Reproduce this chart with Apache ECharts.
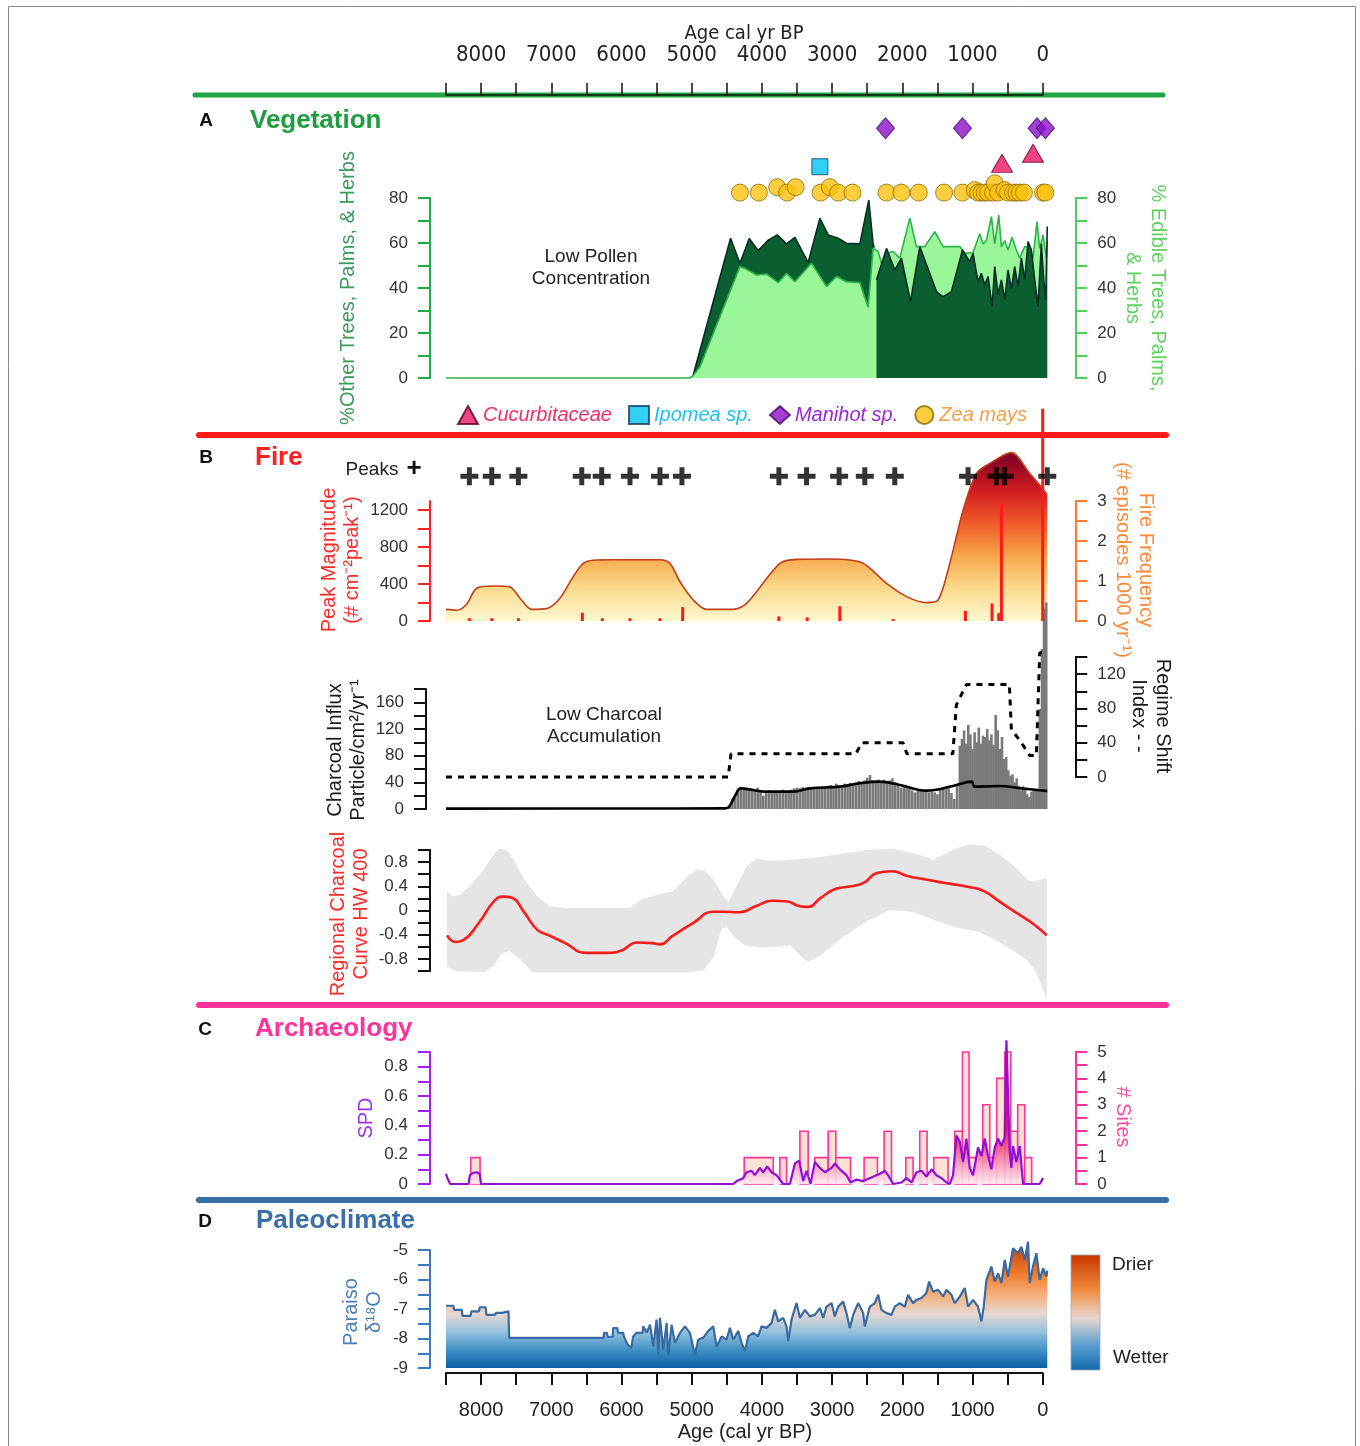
<!DOCTYPE html>
<html>
<head>
<meta charset="utf-8">
<title>Holocene vegetation, fire, archaeology and paleoclimate</title>
<script src="https://cdn.jsdelivr.net/npm/echarts@6/dist/echarts.min.js"></script>
<style>
  html, body { margin: 0; padding: 0; background: #fff; }
  #chart { width: 1360px; height: 1446px; }
</style>
</head>
<body>
<div id="chart"></div>
<script>
// ---------------------------------------------------------------------------
// Data (ages in cal yr BP)
// ---------------------------------------------------------------------------

// A - Vegetation: % edible trees/palms/herbs (light) and % other taxa (dark)
const vegEdible = [
  [8500,0],[5030,0],[4980,1],[4882,5],[4313,49.5],[4242,48.7],[4076,45.8],[3933,46.2],
  [3768,42.4],[3649,46.5],[3530,42.8],[3293,51],[3079,40.6],[2937,45.1],[2795,42.8],
  [2605,42.4],[2487,31.4],[2416,57.6],[2344,56.2],[2296,51],[2225,55.4],[2131,56.2],
  [2036,53.3],[1893,71],[1798,58.4],[1680,58.4],[1537,65],[1419,58.4],[1181,58.4],
  [1110,55.4],[992,55.8],[897,64.1],[850,59.6],[802,61.1],[731,71.7],[683,59.6],
  [626,72.4],[588,58.4],[541,61.1],[494,56.9],[437,62.6],[375,56.9],[327,53.3],
  [256,58.4],[185,57.6],[138,53.3],[81,69.5],[43,57.6],[-5,63.6],[-53,53.3],[-65,61]
];
const vegOtherEarly = [
  [4990,0],[4446,62.1],[4313,51],[4180,62],[4052,56.6],[3910,61.3],[3782,63.6],
  [3649,59.6],[3530,62.5],[3341,51.3],[3174,71],[3056,63.6],[2914,62.1],[2795,59.9],
  [2605,59.6],[2477,79.1],[2416,59.6],[2400,58]
];
const vegOtherLate = [
  [2368,43.6],[2225,57.6],[2107,48],[2012,53.3],[1883,33.9],[1751,58.4],[1513,38.4],
  [1419,36.1],[1300,38.4],[1143,56.9],[1039,51.7],[992,55.4],[921,42.8],[873,46.5],
  [826,41.3],[778,45.1],[721,31.7],[683,49.5],[636,37.2],[588,43.6],[541,34.7],
  [494,48],[446,39.5],[399,49.5],[352,40.6],[304,53.3],[256,43.6],[209,60.6],
  [161,56.9],[114,43.6],[67,31.7],[19,59.6],[-14,43.6],[-43,34.7],[-65,67.3]
];

// Crop macro/microfossil finds: [age, row level on the vegetation axis]
const cucurbitaceae = [[579,95.4],[138,99.9]];
const ipomea = [[3174,93.9]];
const manihot = [[2239,111],[1143,111],[81,111],[-38,111]];
const zeaMays = [
  [4313,82.4],[4043,82.4],[3782,84.8],[3640,82.4],[3520,84.8],[3164,82.4],[3032,84.8],
  [2914,82.4],[2709,82.4],[2225,82.4],[2012,82.4],[1765,82.4],[1405,82.4],[1143,82.4],
  [968,83.5],[920,82.4],[873,82.4],[826,82.4],[778,82.4],[707,82.4],[683,86.5],
  [636,82.4],[541,83.5],[494,82.4],[423,82.4],[375,82.4],[327,82.4],[266,82.4],
  [-5,82.4],[-38,82.4]
];

// B - Fire
const fireFrequency = [
  [8500,0.29],[8348,0.27],[8206,0.42],[8064,0.82],[7826,0.875],[7589,0.85],[7446,0.57],
  [7280,0.29],[7067,0.31],[6877,0.57],[6687,1.11],[6545,1.44],[6403,1.52],[6118,1.53],
  [5452,1.53],[5310,1.44],[5167,0.98],[4978,0.525],[4788,0.29],[4408,0.29],[4218,0.44],
  [3744,1.44],[3507,1.54],[3032,1.55],[2581,1.46],[2225,0.94],[1940,0.61],[1655,0.46],
  [1490,0.525],[1324,1.44],[1134,2.77],[944,3.69],[754,3.94],[446,4.21],[185,3.69],
  [43,3.4],[-65,3.15]
];
const peakMagnitude = [
  [8167,30],[7848,30],[7469,30],[6558,90],[6273,30],[5879,30],[5452,30],[5129,150],
  [3758,50],[3355,40],[2890,160],[2131,20],[1101,110],[722,190],[627,85],[588,1273],[0,2300]
];
const firePeaks = [8167,7848,7469,6566,6282,5879,5452,5139,3758,3364,2900,2534,2107,1063,659,541,-65];
const PEAK_ROW = 3.62; // row on the fire-frequency axis where peak crosses sit

const charcoalInflux = [
  [4460,5],[4420,15],[4380,22],[4340,27],[4300,30],[4260,32],[4220,31],[4180,29],[4140,30],
  [4100,28],[4060,32],[4020,26],[3980,20],[3940,27],[3900,28],[3860,27],[3820,26],[3780,27],
  [3740,28],[3700,29],[3660,27],[3620,28],[3580,29],[3540,31],[3500,32],[3460,31],[3420,33],
  [3380,31],[3340,32],[3300,33],[3260,31],[3220,32],[3180,33],[3140,34],[3100,32],[3060,35],
  [3020,36],[2980,34],[2940,38],[2900,35],[2860,36],[2820,38],[2780,37],[2740,39],[2700,38],
  [2660,40],[2620,42],[2580,41],[2540,43],[2500,47],[2460,51],[2420,43],[2380,41],[2340,44],
  [2300,40],[2260,44],[2220,40],[2180,43],[2140,46],[2100,40],[2060,37],[2020,32],[1980,35],
  [1940,33],[1900,30],[1860,28],[1820,25],[1780,27],[1740,28],[1700,27],[1660,27],[1620,25],
  [1580,26],[1540,25],[1500,22],[1460,29],[1420,31],[1380,30],[1340,32],[1300,24],[1260,15],
  [1220,35],[1180,95],[1150,105],[1120,118],[1090,98],[1060,126],[1030,112],[1000,90],
  [970,115],[940,100],[910,122],[880,98],[850,110],[820,108],[790,120],[760,103],[730,112],
  [700,96],[670,141],[640,118],[610,90],[580,108],[550,75],[520,78],[490,58],[460,50],
  [430,52],[400,40],[370,46],[340,35],[310,28],[280,34],[250,30],[220,22],[190,18],[160,26],
  [130,28],[100,27],[70,30],[40,150],[10,240],[-20,300],[-50,310]
];
const charcoalBackground = [
  [8500,0.5],[6000,0.8],[4520,1],[4470,3],[4380,20],[4300,31],[3933,26],[3554,26],
  [3317,31],[2890,33.5],[2640,38],[2320,41],[2036,36],[1656,27.5],[1277,34.5],[1015,41],
  [968,33.5],[612,34.5],[300,31],[-65,27]
];
const regimeShift = [
  [8500,0],[4480,0],[4440,27],[2660,27],[2580,40],[1990,40],[1935,27],[1280,27],[1230,84],
  [1086,108],[475,108],[446,55],[327,43],[185,25],[90,25],[43,145],[-65,145]
];

const regionalCurve = [
  [8485,-0.41],[8363,-0.52],[8254,-0.49],[8036,-0.21],[7818,0.15],[7687,0.23],[7563,0.21],
  [7381,-0.04],[7199,-0.32],[7018,-0.42],[6800,-0.54],[6508,-0.70],[6218,-0.70],[6000,-0.66],
  [5781,-0.53],[5563,-0.54],[5453,-0.56],[5272,-0.42],[4982,-0.21],[4691,-0.02],[4545,-0.02],
  [4327,-0.03],[4073,0.08],[3855,0.16],[3635,0.15],[3490,0.08],[3345,0.06],[3163,0.21],
  [2945,0.36],[2727,0.40],[2545,0.46],[2363,0.62],[2145,0.65],[1927,0.57],[1709,0.52],
  [1418,0.46],[1055,0.39],[837,0.32],[619,0.15],[401,-0.02],[147,-0.21],[-57,-0.41]
];
const regionalUpper = [
  [8486,0.32],[8399,0.23],[8290,0.26],[8144,0.43],[7999,0.62],[7853,0.87],[7744,1.02],
  [7635,1.0],[7526,0.82],[7381,0.51],[7199,0.23],[7017,0.07],[6799,0.04],[5890,0.04],
  [5709,0.18],[5490,0.26],[5272,0.32],[5054,0.57],[4909,0.68],[4800,0.65],[4690,0.51],
  [4545,0.23],[4472,0.15],[4363,0.40],[4218,0.73],[4073,0.86],[3891,0.82],[3673,0.83],
  [3236,0.87],[2873,0.94],[2509,1.0],[2146,1.02],[1782,0.93],[1564,0.84],[1273,1.01],
  [1055,1.09],[837,1.08],[619,0.93],[401,0.73],[219,0.51],[110,0.48],[-57,0.54]
];
const regionalLower = [
  [8486,-0.93],[8362,-1.0],[7963,-1.02],[7817,-0.91],[7708,-0.71],[7599,-0.67],[7454,-0.79],
  [7272,-1.02],[5054,-1.02],[4836,-0.99],[4690,-0.77],[4581,-0.32],[4509,-0.26],[4400,-0.43],
  [4254,-0.57],[4036,-0.61],[3782,-0.60],[3600,-0.57],[3455,-0.74],[3345,-0.85],[3164,-0.74],
  [2873,-0.46],[2509,-0.18],[2182,0.01],[1855,-0.02],[1491,-0.18],[1201,-0.29],[910,-0.35],
  [619,-0.52],[401,-0.68],[219,-0.82],[110,-0.99],[1,-1.27],[-57,-1.49]
];

// C - Archaeology
const siteBins = [ // [older edge, younger edge, number of sites]
  [8147,8015,1],[4252,3839,1],[3744,3649,1],[3459,3341,2],[3246,3056,1],[3056,2947,2],
  [2947,2738,1],[2544,2354,1],[2259,2154,2],[1950,1846,1],[1751,1647,2],[1552,1348,1],
  [1253,1143,2],[1143,1049,5],[1049,944,1],[854,754,3],[754,655,1],[655,541,4],
  [541,455,5],[455,356,2],[356,256,3],[256,157,1]
];
const spd = [
  [8500,0.07],[8480,0.04],[8440,0],[8180,0],[8160,0.06],[8120,0.075],[8060,0.08],[8020,0.07],
  [8000,0],[4440,0],[4408,0],[4360,0.02],[4266,0.04],[4218,0.08],[4147,0.09],[4100,0.06],
  [4028,0.11],[3981,0.08],[3924,0.12],[3862,0.08],[3791,0.06],[3744,0.03],[3697,0],[3601,0],
  [3530,0.14],[3469,0.16],[3412,0.02],[3364,0.09],[3307,0],[3246,0.15],[3174,0.11],[3103,0.08],
  [3008,0.11],[2961,0.14],[2890,0.10],[2795,0.06],[2738,0.01],[2652,0.03],[2558,0.02],
  [2416,0.05],[2320,0.07],[2249,0.09],[2202,0.06],[2131,0],[2012,0.01],[1940,0.04],[1869,0.01],
  [1798,0.08],[1727,0.09],[1656,0.05],[1584,0.10],[1513,0.06],[1442,0.04],[1371,0.01],[1324,0],
  [1277,0.06],[1229,0.33],[1181,0.29],[1134,0.15],[1087,0.31],[1039,0.11],[992,0.06],[921,0.25],
  [873,0.19],[826,0.31],[778,0.19],[731,0.10],[683,0.25],[636,0.31],[588,0.26],[541,0.32],
  [517,0.98],[494,0.97],[470,0.22],[446,0.11],[423,0.26],[375,0.15],[327,0.26],[280,0],
  [232,0],[138,0],[43,0],[-5,0.04]
];

// D - Paleoclimate: Paraiso cave d18O
const paraisoD18O = [
  [8500,-6.89],[8395,-6.89],[8385,-7.03],[8275,-7.03],[8265,-7.23],[8150,-7.23],[8140,-7.08],
  [8030,-7.08],[8020,-6.94],[7935,-6.94],[7925,-7.2],[7800,-7.2],[7790,-7.13],[7700,-7.13],
  [7690,-7.08],[7610,-7.08],[7600,-7.98],[6255,-7.98],[6250,-7.81],[6205,-7.81],[6200,-7.94],
  [6125,-7.94],[6120,-7.65],[6060,-7.65],[6050,-7.81],[5975,-7.81],[5965,-7.94],[5910,-8.21],
  [5860,-8.32],[5835,-7.94],[5790,-7.81],[5700,-7.81],[5690,-7.59],[5640,-7.8],[5594,-7.53],
  [5547,-8.27],[5500,-7.36],[5476,-8.55],[5452,-7.3],[5405,-8.38],[5357,-7.47],[5334,-8.6],
  [5286,-7.53],[5239,-8.15],[5167,-7.81],[5096,-7.59],[5025,-7.81],[4954,-8.55],[4907,-8.04],
  [4836,-7.97],[4765,-7.75],[4693,-7.59],[4645,-8.27],[4574,-7.93],[4503,-8.04],[4456,-7.64],
  [4408,-8.04],[4337,-7.75],[4289,-8.15],[4242,-8.43],[4195,-7.93],[4124,-7.81],[4053,-7.93],
  [4005,-7.59],[3934,-7.64],[3862,-7.47],[3815,-7.03],[3768,-7.42],[3697,-7.3],[3649,-7.59],
  [3626,-8.1],[3578,-7.36],[3507,-6.8],[3459,-7.3],[3388,-7.03],[3317,-7.25],[3246,-7.2],
  [3174,-6.97],[3127,-7.3],[3079,-6.92],[3008,-6.8],[2961,-7.25],[2914,-6.92],[2842,-6.75],
  [2795,-7.14],[2747,-7.64],[2700,-7.2],[2629,-6.8],[2558,-7.14],[2534,-7.59],[2463,-6.92],
  [2391,-6.8],[2344,-6.52],[2296,-7.03],[2225,-7.14],[2154,-7.2],[2107,-6.92],[2036,-6.8],
  [1964,-6.92],[1917,-6.52],[1846,-6.8],[1798,-6.69],[1727,-6.63],[1656,-6.46],[1618,-6.07],
  [1561,-6.41],[1490,-6.35],[1419,-6.58],[1371,-6.35],[1300,-6.52],[1253,-6.8],[1181,-6.58],
  [1110,-6.29],[1063,-6.92],[992,-6.69],[921,-6.92],[873,-7.42],[840,-6.92],[802,-6.01],
  [731,-5.56],[683,-6.07],[636,-5.79],[588,-6.12],[541,-5.34],[494,-5.9],[423,-4.94],
  [352,-5.11],[304,-4.89],[256,-5.34],[209,-4.72],[185,-6.12],[138,-5.56],[90,-5.11],
  [43,-6.01],[-5,-5.62],[-53,-5.9],[-65,-5.7]
];

// ---------------------------------------------------------------------------
// Layout helpers
// ---------------------------------------------------------------------------
const FONT = "'Liberation Sans', Arial, Helvetica, sans-serif";
const NARROW = "'Liberation Sans Narrow', 'Arial Narrow', 'DejaVu Sans Condensed', 'Liberation Sans', sans-serif";
const AGE_MIN = -65, AGE_MAX = 8500, PX_PER_YR = 0.0702, PLOT_LEFT = 446;
const DATA_W = (AGE_MAX - AGE_MIN) * PX_PER_YR;
const AXIS_W = AGE_MAX * PX_PER_YR;

function stepLabels(step, fmt, maxLabel) {
  return function (v) {
    const r = v / step;
    if (Math.abs(r - Math.round(r)) > 1e-6) return '';
    if (maxLabel !== undefined && v > maxLabel + 1e-9) return '';
    return fmt ? fmt(v) : String(Math.round(v));
  };
}
function dec1(v) { const r = Math.round(v * 10) / 10; return r === 0 ? '0' : r.toFixed(1); }

function yAxis(gridIndex, position, color, min, max, interval, labelFn, extra) {
  return Object.assign({
    type: 'value', gridIndex, position, min, max, interval,
    offset: position === 'left' ? 16 : 28,
    axisLine: { show: true, onZero: false, lineStyle: { color, width: 2 } },
    axisTick: { show: true, length: 12, lineStyle: { color, width: 2 } },
    axisLabel: { show: true, margin: 22, color: '#333', fontSize: 17, fontFamily: FONT, formatter: labelFn },
    splitLine: { show: false }
  }, extra || {});
}
function hiddenX(gridIndex) {
  return { type: 'value', gridIndex, min: AGE_MIN, max: AGE_MAX, inverse: true, show: false };
}
function hiddenY(gridIndex) {
  return { type: 'value', gridIndex, min: 0, max: 1, show: false };
}

const grids = [
  { left: PLOT_LEFT, top: 95,   width: AXIS_W, height: 10 },  // 0 top age axis
  { left: PLOT_LEFT, top: 198,  width: DATA_W, height: 180 }, // 1 vegetation
  { left: PLOT_LEFT, top: 501,  width: DATA_W, height: 120 }, // 2 fire peaks/frequency
  { left: PLOT_LEFT, top: 689,  width: DATA_W, height: 120 }, // 3 charcoal influx
  { left: PLOT_LEFT, top: 657,  width: DATA_W, height: 120 }, // 4 regime shift
  { left: PLOT_LEFT, top: 850,  width: DATA_W, height: 121 }, // 5 regional charcoal
  { left: PLOT_LEFT, top: 1052, width: DATA_W, height: 132 }, // 6 archaeology
  { left: PLOT_LEFT, top: 1250, width: DATA_W, height: 118 }, // 7 paleoclimate
  { left: PLOT_LEFT, top: 1363, width: AXIS_W, height: 10 }   // 8 bottom age axis
];

const xAxes = [
  { type: 'value', gridIndex: 0, position: 'top', min: 0, max: 8500, interval: 500, inverse: true,
    axisLine: { onZero: false, lineStyle: { color: '#111', width: 1.5 } },
    axisTick: { length: 12, lineStyle: { color: '#111', width: 1.5 } },
    axisLabel: { margin: 29, color: '#222', fontSize: 22, fontFamily: NARROW, formatter: stepLabels(1000) },
    splitLine: { show: false } },
  hiddenX(1), hiddenX(2), hiddenX(3), hiddenX(4), hiddenX(5), hiddenX(6), hiddenX(7),
  { type: 'value', gridIndex: 8, position: 'bottom', min: 0, max: 8500, interval: 500, inverse: true,
    axisLine: { onZero: false, lineStyle: { color: '#111', width: 2 } },
    axisTick: { length: 12, lineStyle: { color: '#111', width: 2 } },
    axisLabel: { margin: 27, color: '#222', fontSize: 20, fontFamily: FONT, formatter: stepLabels(1000) },
    splitLine: { show: false } }
];

const yAxes = [
  hiddenY(0),                                                                        // 0
  yAxis(1, 'left',  '#22aa44', 0, 80, 10, stepLabels(20)),                           // 1
  yAxis(1, 'right', '#4fcf5c', 0, 80, 10, stepLabels(20)),                           // 2
  yAxis(2, 'left',  '#ff2222', 0, 1300, 200, stepLabels(400, null, 1200),
        { axisTick: { show: true, length: 12, customValues: [0,200,400,600,800,1000,1200],
                      lineStyle: { color: '#ff2222', width: 2 } } }),                 // 3
  yAxis(2, 'right', '#ff7a2a', 0, 3, 0.5, stepLabels(1)),                            // 4
  yAxis(3, 'left',  '#111', 0, 180, 20, stepLabels(40, null, 160), { offset: 20 }),  // 5
  yAxis(4, 'right', '#111', 0, 140, 20, stepLabels(40)),                             // 6
  yAxis(5, 'left',  '#111', -1, 1, 0.2, stepLabels(0.4, dec1, 0.8)),                 // 7
  yAxis(6, 'left',  '#a020f0', 0, 0.9, 0.1, stepLabels(0.2, dec1, 0.8)),             // 8
  yAxis(6, 'right', '#ff3399', 0, 5, 0.5, stepLabels(1)),                            // 9
  yAxis(7, 'left',  '#3f7ab8', -9, -5, 0.5, stepLabels(1)),                          // 10
  hiddenY(8)                                                                         // 11
];

// ---------------------------------------------------------------------------
// Gradients
// ---------------------------------------------------------------------------
const LG = echarts.graphic.LinearGradient;
const fireFill = new LG(0, 0, 0, 1, [
  { offset: 0, color: '#780026' }, { offset: 0.22, color: '#d01a20' }, { offset: 0.42, color: '#f05a2a' },
  { offset: 0.62, color: '#f7a84a' }, { offset: 0.8, color: '#fbd98c' }, { offset: 1, color: '#fff8cf' }
]);
const spdFill = new LG(0, 1128, 0, 1184, [
  { offset: 0, color: '#e8004e' }, { offset: 1, color: '#ffecf3' }
], true);
const climateFill = new LG(0, 0, 0, 1, [
  { offset: 0, color: '#c23a0c' }, { offset: 0.25, color: '#f07a2a' }, { offset: 0.42, color: '#f4b07c' },
  { offset: 0.57, color: '#e6d8d2' }, { offset: 0.72, color: '#90c0dc' }, { offset: 0.87, color: '#3a8cc4' },
  { offset: 1, color: '#0b5fa2' }
]);
const colorbarFill = new LG(0, 0, 0, 1, [
  { offset: 0, color: '#c83400' }, { offset: 0.3, color: '#f08a3c' }, { offset: 0.55, color: '#e8d8d0' },
  { offset: 0.78, color: '#5aa0d0' }, { offset: 1, color: '#1168ac' }
]);

// ---------------------------------------------------------------------------
// Series
// ---------------------------------------------------------------------------
const PLUS = 'path://M6.5,0h5v6.5h6.5v5h-6.5v6.5h-5v-6.5h-6.5v-5h6.5z';
const lineBase = { type: 'line', symbol: 'none', clip: false, silent: true };

const series = [
  // Vegetation
  Object.assign({}, lineBase, { name: 'Other taxa (early)', xAxisIndex: 1, yAxisIndex: 1, z: 2, data: vegOtherEarly,
    lineStyle: { color: '#0b2d28', width: 1.6 }, areaStyle: { color: '#0b5e30', opacity: 1 } }),
  Object.assign({}, lineBase, { name: 'Edible taxa', xAxisIndex: 1, yAxisIndex: 2, z: 3, data: vegEdible,
    lineStyle: { color: '#2db34a', width: 1.6 }, areaStyle: { color: '#99f799', opacity: 1 } }),
  Object.assign({}, lineBase, { name: 'Other taxa', xAxisIndex: 1, yAxisIndex: 1, z: 4, data: vegOtherLate,
    lineStyle: { color: '#0b2d28', width: 1.6 }, areaStyle: { color: '#0b5e30', opacity: 1 } }),
  { type: 'scatter', name: 'Cucurbitaceae', xAxisIndex: 1, yAxisIndex: 1, z: 6, clip: false, data: cucurbitaceae,
    symbol: 'triangle', symbolSize: [21, 18], itemStyle: { color: '#ee1464', borderColor: '#5a0020', borderWidth: 1 } },
  { type: 'scatter', name: 'Ipomea sp.', xAxisIndex: 1, yAxisIndex: 1, z: 6, clip: false, data: ipomea,
    symbol: 'rect', symbolSize: 16, itemStyle: { color: '#00c4f4', borderColor: '#1a3a5a', borderWidth: 1 } },
  { type: 'scatter', name: 'Manihot sp.', xAxisIndex: 1, yAxisIndex: 1, z: 6, clip: false, data: manihot,
    symbol: 'diamond', symbolSize: [18, 21], itemStyle: { color: '#8c10c8', borderColor: '#4a0a70', borderWidth: 1 } },
  { type: 'scatter', name: 'Zea mays', xAxisIndex: 1, yAxisIndex: 1, z: 5, clip: false, data: zeaMays,
    symbol: 'circle', symbolSize: 17, itemStyle: { color: '#ffc20e', borderColor: '#8a6d00', borderWidth: 1 } },

  // Fire frequency and peaks
  Object.assign({}, lineBase, { name: 'Fire frequency', xAxisIndex: 2, yAxisIndex: 4, z: 2, smooth: 0.3,
    data: fireFrequency, lineStyle: { color: '#c0401a', width: 1.6 }, areaStyle: { color: fireFill, opacity: 1 } }),
  { type: 'bar', name: 'Peak magnitude', xAxisIndex: 2, yAxisIndex: 3, z: 4, clip: false, barWidth: 3,
    data: peakMagnitude, itemStyle: { color: '#ff1a1a' }, silent: true },
  { type: 'scatter', name: 'Peaks', xAxisIndex: 2, yAxisIndex: 4, z: 5, clip: false, symbol: PLUS, symbolSize: 18,
    data: firePeaks.map(a => [a, PEAK_ROW]), itemStyle: { color: '#000' }, silent: true },

  // Charcoal influx and regime shift
  { type: 'bar', name: 'Charcoal influx', xAxisIndex: 3, yAxisIndex: 5, z: 2, clip: false, barWidth: 2.6,
    data: charcoalInflux, itemStyle: { color: '#7a7a7a' }, silent: true },
  Object.assign({}, lineBase, { name: 'Charcoal background', xAxisIndex: 3, yAxisIndex: 5, z: 4, smooth: 0.4,
    data: charcoalBackground, lineStyle: { color: '#000', width: 2.6 } }),
  Object.assign({}, lineBase, { name: 'Regime shift index', xAxisIndex: 4, yAxisIndex: 6, z: 4,
    data: regimeShift, lineStyle: { color: '#000', width: 3, type: [6, 6] } }),

  // Regional charcoal composite: confidence band + curve
  { type: 'custom', name: 'Regional band', xAxisIndex: 5, yAxisIndex: 7, z: 1, clip: false, silent: true,
    data: [[0, 0]],
    renderItem: function (params, api) {
      const pts = regionalUpper.map(p => api.coord(p))
        .concat(regionalLower.slice().reverse().map(p => api.coord(p)));
      return { type: 'polygon', shape: { points: pts }, style: { fill: '#e5e5e5' } };
    } },
  Object.assign({}, lineBase, { name: 'Regional charcoal', xAxisIndex: 5, yAxisIndex: 7, z: 3, smooth: 0.5,
    data: regionalCurve, lineStyle: { color: '#ff1a1a', width: 2.6 } }),

  // Archaeology
  { type: 'custom', name: '# Sites', xAxisIndex: 6, yAxisIndex: 9, z: 2, clip: false, silent: true,
    data: siteBins, encode: { x: [0, 1], y: 2 },
    renderItem: function (params, api) {
      const a = api.coord([api.value(0), api.value(2)]);
      const b = api.coord([api.value(1), 0]);
      return { type: 'rect', shape: { x: a[0], y: a[1], width: b[0] - a[0], height: b[1] - a[1] },
        style: { fill: '#fde2d4', stroke: '#ff3399', lineWidth: 1.6 } };
    } },
  Object.assign({}, lineBase, { name: 'SPD', xAxisIndex: 6, yAxisIndex: 8, z: 4,
    data: spd, lineStyle: { color: '#9010d8', width: 2.2 }, areaStyle: { color: spdFill, opacity: 0.9 } }),

  // Paleoclimate
  Object.assign({}, lineBase, { name: 'Paraiso d18O', xAxisIndex: 7, yAxisIndex: 10, z: 3,
    data: paraisoD18O, lineStyle: { color: '#3a6aa2', width: 2.2 },
    areaStyle: { color: climateFill, opacity: 1, origin: 'start' } })
];

// ---------------------------------------------------------------------------
// Titles, separators, axis names and annotations
// ---------------------------------------------------------------------------
const graphic = [];
function rule(x1, x2, y, color, w) {
  graphic.push({ type: 'line', z: -10, silent: true,
    shape: { x1, y1: y, x2, y2: y }, style: { stroke: color, lineWidth: w, lineCap: 'round' } });
}
function label(x, y, text, o) {
  o = o || {};
  graphic.push({ type: 'text', x, y, rotation: o.rotation || 0, z: 10, silent: true,
    style: { text, fill: o.color || '#222', font: (o.style || '') + ' ' + (o.weight || 'normal') + ' ' +
      (o.size || 20) + 'px ' + (o.family || FONT), align: o.align || 'center', verticalAlign: 'middle',
      lineHeight: o.lineHeight || 23 } });
}
const CCW = Math.PI / 2, CW = -Math.PI / 2;

graphic.push({ type: 'rect', z: -20, silent: true, shape: { x: 8.5, y: 6.5, width: 1347, height: 1460 },
  style: { fill: 'none', stroke: '#8a8a8a', lineWidth: 1 } });

rule(195, 1163, 95, '#1fa543', 5);
rule(199, 1166, 435, '#ff1a1a', 6);
rule(199, 1166, 1005, '#ff3399', 6);
rule(199, 1166, 1200, '#3b6ea6', 6);

label(744, 34, 'Age cal yr BP', { size: 20, family: NARROW, color: '#222' });
label(745, 1432, 'Age (cal yr BP)', { size: 20, color: '#222' });

label(206, 121, 'A', { weight: 'bold', size: 19, color: '#111' });
label(250, 121, 'Vegetation', { weight: 'bold', size: 26, color: '#1e9e3e', align: 'left' });
label(206, 458, 'B', { weight: 'bold', size: 19, color: '#111' });
label(255, 458, 'Fire', { weight: 'bold', size: 26, color: '#ff2020', align: 'left' });
label(205, 1030, 'C', { weight: 'bold', size: 19, color: '#111' });
label(255, 1029, 'Archaeology', { weight: 'bold', size: 26, color: '#ff3399', align: 'left' });
label(205, 1222, 'D', { weight: 'bold', size: 19, color: '#111' });
label(256, 1221, 'Paleoclimate', { weight: 'bold', size: 26, color: '#3b6ea6', align: 'left' });

label(348, 288, '%Other Trees, Palms, & Herbs', { rotation: CCW, color: '#3a9b58' });
label(1145, 288, '% Edible Trees, Palms,\n& Herbs', { rotation: CW, color: '#5fd35f', lineHeight: 25 });
label(591, 268, 'Low Pollen\nConcentration', { size: 19, color: '#222', lineHeight: 22 });

label(341, 560, 'Peak Magnitude\n(# cm\u207B\u00B2peak\u207B\u00B9)', { rotation: CCW, color: '#ff2a2a' });
label(1134, 560, 'Fire Frequency\n(# episodes 1000 yr\u207B\u00B9)', { rotation: CW, color: '#ff8a3a' });
label(372, 470, 'Peaks', { size: 19, color: '#222' });
label(414, 469, '+', { size: 26, weight: 'bold', color: '#111' });

label(347, 750, 'Charcoal Influx\nParticle/cm\u00B2/yr\u207B\u00B9', { rotation: CCW, color: '#1a1a1a' });
label(1151, 716, 'Regime Shift\nIndex - -', { rotation: CW, color: '#1a1a1a', lineHeight: 24 });
label(604, 726, 'Low Charcoal\nAccumulation', { size: 19, color: '#222', lineHeight: 22 });

label(350, 914, 'Regional Charcoal\nCurve HW 400', { rotation: CCW, color: '#ff2a2a' });

label(366, 1118, 'SPD', { rotation: CCW, color: '#a030e8' });
label(1123, 1117, '# Sites', { rotation: CW, color: '#ff4aa0' });

label(363, 1312, 'Paraiso\n\u03B4\u00B9\u2078O', { rotation: CCW, color: '#4a7eb8' });
graphic.push({ type: 'rect', z: 5, silent: true, shape: { x: 1071, y: 1255, width: 29, height: 115 },
  style: { fill: colorbarFill, stroke: '#9ab', lineWidth: 0.8 } });
label(1112, 1265, 'Drier', { size: 19, color: '#222', align: 'left' });
label(1113, 1358, 'Wetter', { size: 19, color: '#222', align: 'left' });

// ---------------------------------------------------------------------------
const chart = echarts.init(document.getElementById('chart'), null, { renderer: 'canvas' });
chart.setOption({
  animation: false,
  backgroundColor: '#fff',
  textStyle: { fontFamily: FONT },
  grid: grids,
  xAxis: xAxes,
  yAxis: yAxes,
  legend: {
    left: 452, top: 400, itemGap: 16, itemWidth: 20, itemHeight: 18, selectedMode: false,
    textStyle: { fontSize: 20, fontStyle: 'italic', fontFamily: FONT },
    data: [
      { name: 'Cucurbitaceae', textStyle: { color: '#f0306a' } },
      { name: 'Ipomea sp.', textStyle: { color: '#20c0f0' } },
      { name: 'Manihot sp.', textStyle: { color: '#9a28d8' } },
      { name: 'Zea mays', textStyle: { color: '#f7a04a' } }
    ]
  },
  graphic: { elements: graphic },
  series
});
</script>
</body>
</html>
